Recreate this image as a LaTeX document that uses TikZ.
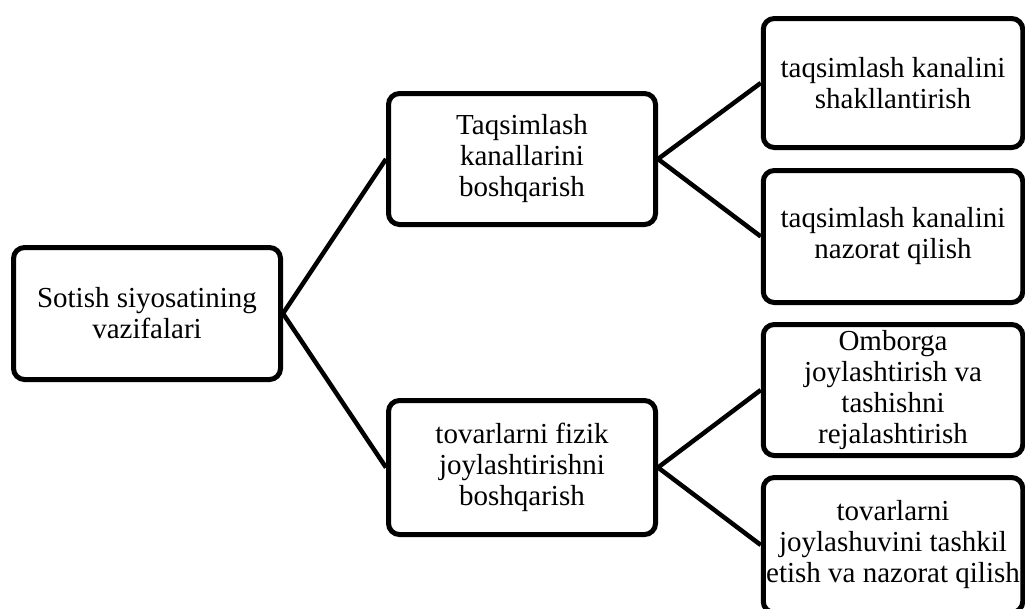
\documentclass[tikz,border=0pt]{standalone}
\usepackage{fontspec}
\setmainfont{Liberation Serif}
\usetikzlibrary{backgrounds}
\begin{document}
\begin{tikzpicture}[x=1pt,y=-1pt,
  box/.style={draw=black,line width=5pt,rounded corners=11pt,fill=white,align=center,
    font=\fontsize{29}{31}\selectfont,inner sep=0pt},
  link/.style={line width=4.5pt}]
\useasboundingbox (0,0) rectangle (1025,608);
\clip (0,0) rectangle (1025,608);
\node[box,minimum width=267pt,minimum height=132pt] (root) at (147,313.5) {Sotish siyosatining\\vazifalari};
\node[box,minimum width=267pt,minimum height=131pt] (m1) at (522,159) {Taqsimlash\\kanallarini\\boshqarish};
\node[box,minimum width=267pt,minimum height=134pt] (m2) at (522,467.5) {tovarlarni fizik\\joylashtirishni\\boshqarish};
\node[box,minimum width=259.5pt,minimum height=129pt] (r1) at (893,83) {taqsimlash kanalini\\shakllantirish};
\node[box,minimum width=259.5pt,minimum height=132pt] (r2) at (893,236.5) {taqsimlash kanalini\\nazorat qilish};
\node[box,minimum width=259.5pt,minimum height=131pt] (r3) at (893,390) {Omborga\\joylashtirish va\\tashishni\\rejalashtirish};
\node[box,minimum width=259.5pt,minimum height=135pt] (r4) at (893,545) {tovarlarni\\joylashuvini tashkil\\etish va nazorat qilish};
\begin{scope}[on background layer]
\draw[link] (root.east) -- (m1.west);
\draw[link] (root.east) -- (m2.west);
\draw[link] (m1.east) -- (r1.west);
\draw[link] (m1.east) -- (r2.west);
\draw[link] (m2.east) -- (r3.west);
\draw[link] (m2.east) -- (r4.west);
\end{scope}
\end{tikzpicture}
\end{document}
